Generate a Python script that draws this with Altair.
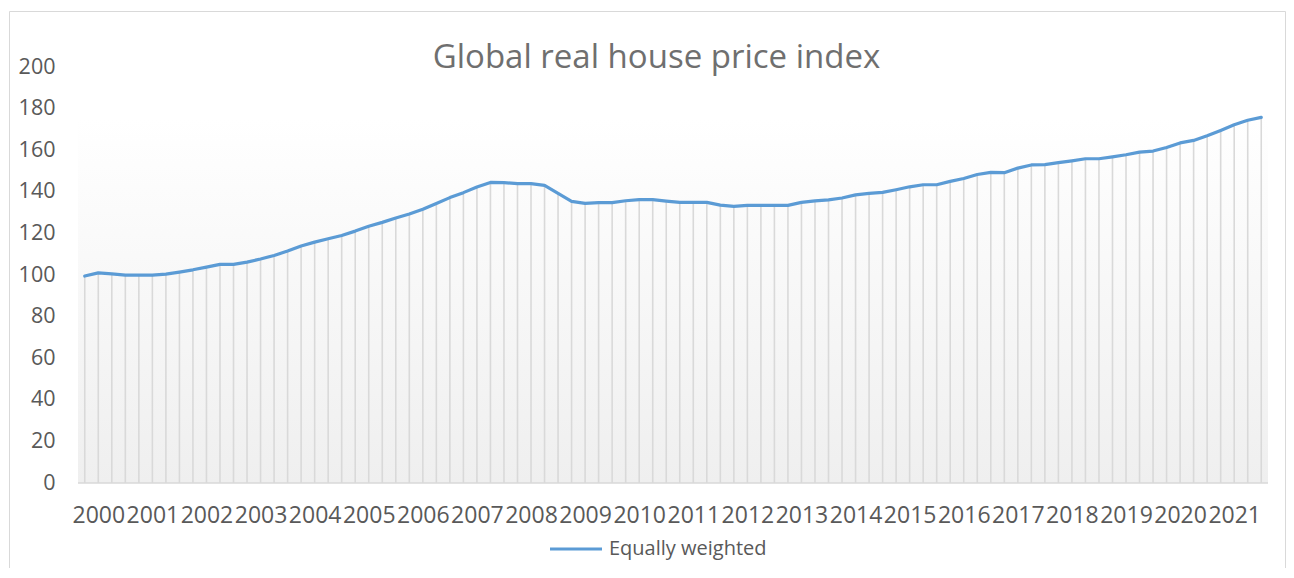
import json
import altair as alt
import pandas as pd

# ---- data (quarterly, 2000 Q1 - 2021 Q4) ----
year_labels = [str(y) for y in range(2000, 2022)]
quarters = [f"{y} Q{q}" for y in year_labels for q in (1, 2, 3, 4)]
values = [
    99.5, 101.0, 100.5, 99.9, 99.9, 99.9, 100.4, 101.4,
    102.5, 103.8, 105.1, 105.1, 106.2, 107.7, 109.4, 111.5,
    113.9, 115.8, 117.4, 119.0, 121.1, 123.4, 125.3, 127.4,
    129.3, 131.6, 134.4, 137.2, 139.6, 142.3, 144.5, 144.4,
    143.9, 143.9, 143.1, 139.2, 135.4, 134.4, 134.8, 134.8,
    135.7, 136.2, 136.2, 135.5, 134.9, 134.9, 134.9, 133.6,
    133.0, 133.5, 133.5, 133.5, 133.5, 134.9, 135.6, 136.1,
    137.0, 138.5, 139.2, 139.7, 141.0, 142.4, 143.4, 143.4,
    145.0, 146.4, 148.3, 149.3, 149.2, 151.4, 152.9, 153.1,
    154.0, 154.9, 155.9, 155.9, 156.8, 157.8, 159.1, 159.6,
    161.3, 163.5, 164.7, 166.9, 169.5, 172.2, 174.4, 175.8,
]
series_name = "Equally weighted"
title_text = "Global real house price index"
y_ticks = [0, 20, 40, 60, 80, 100, 120, 140, 160, 180, 200]
shade_top = 175

df = pd.DataFrame({
    "idx": list(range(len(values))),
    "quarter": quarters,
    "value": values,
    "series": series_name,
})

W, H = 1190, 416
FONT = "Open Sans"
LABEL_COLOR = "#595959"
GRID = "#d9d9d9"

xscale = alt.Scale(domain=[-0.5, len(values) - 0.5], nice=False, zero=False)
yscale = alt.Scale(domain=[0, 200], nice=False)

xaxis = alt.Axis(
    title=None,
    values=[4 * i + 1 for i in range(len(year_labels))],
    labelExpr=f"{json.dumps(year_labels)}[floor(datum.value / 4)]",
    ticks=False, tickSize=0, domain=False, grid=False,
    labelFont=FONT, labelFontSize=23, labelColor=LABEL_COLOR,
    labelPadding=21, labelOverlap=False, labelFlush=False,
)
yaxis = alt.Axis(
    title=None, values=y_ticks,
    ticks=False, tickSize=0, domain=False, grid=False,
    labelFont=FONT, labelFontSize=21.5, labelColor=LABEL_COLOR,
    labelPadding=23, labelOverlap=False, labelFlush=False,
)

one = pd.DataFrame({"a": [0]})

shade = alt.Chart(one).mark_rect(
    fill=alt.Gradient(
        gradient="linear",
        stops=[alt.GradientStop(color="#ffffff", offset=0),
               alt.GradientStop(color="#efefef", offset=1)],
        x1=0, x2=0, y1=0, y2=1,
    )
).encode(
    x=alt.value(0), x2=alt.value(W),
    y=alt.Y(datum=shade_top, scale=yscale, axis=yaxis),
    y2=alt.datum(0),
)

baseline = alt.Chart(one).mark_rule(color=GRID, strokeWidth=1.5).encode(
    x=alt.value(0), x2=alt.value(W),
    y=alt.Y(datum=0, scale=yscale, axis=yaxis),
)

base = alt.Chart(df)
X = alt.X("idx:Q", scale=xscale, axis=xaxis)
Y = alt.Y("value:Q", scale=yscale, axis=yaxis)

drops = base.mark_rule(color=GRID, strokeWidth=1.6).encode(
    x=X, y=Y, y2=alt.datum(0)
)

line = base.mark_line(strokeWidth=3.2, strokeJoin="round", strokeCap="round").encode(
    x=X, y=Y,
    color=alt.Color(
        "series:N",
        scale=alt.Scale(domain=[series_name], range=["#5b9bd5"]),
        legend=alt.Legend(
            title=None, orient="none", legendX=470, legendY=454,
            symbolType="stroke", symbolSize=2704, symbolStrokeWidth=3.2,
            labelFont=FONT, labelFontSize=20, labelColor=LABEL_COLOR,
            labelOffset=5, padding=0,
        ),
    ),
)

title = alt.Chart(pd.DataFrame({"t": [title_text]})).mark_text(
    font=FONT, fontSize=33, color="#6f6f6f", align="center", baseline="alphabetic"
).encode(text="t:N", x=alt.value(578.5), y=alt.value(1))

frame_left = alt.Chart(one).mark_rule(color=GRID, strokeWidth=1).encode(
    x=alt.value(-68.5), y=alt.value(-55.5), y2=alt.value(H + 120)
)
frame_top = alt.Chart(one).mark_rule(color=GRID, strokeWidth=1).encode(
    x=alt.value(-68.5), x2=alt.value(1207.5), y=alt.value(-55.5)
)
frame_right = alt.Chart(one).mark_rule(color=GRID, strokeWidth=1).encode(
    x=alt.value(1207.5), y=alt.value(-55.5), y2=alt.value(H + 120)
)

chart = alt.layer(
    shade, baseline, drops, line, title, frame_left, frame_top, frame_right
).properties(
    width=W, height=H,
    padding={"left": 70, "top": 59, "right": 18, "bottom": 85},
    autosize=alt.AutoSizeParams(type="none"),
    background="white",
).configure_view(stroke=None)

chart.save("out.html", embed_options={"renderer": "svg", "actions": False})
